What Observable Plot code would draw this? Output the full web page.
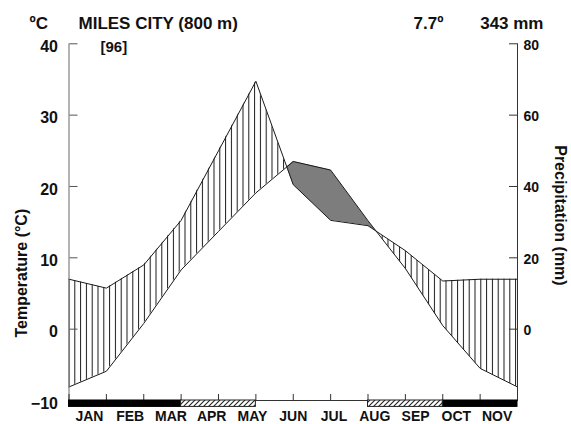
<!DOCTYPE html>
<html>
<head>
<meta charset="utf-8">
<script src="https://cdn.jsdelivr.net/npm/d3@7"></script>
<script src="https://cdn.jsdelivr.net/npm/@observablehq/plot@0.6"></script>
<style>
  html, body { margin: 0; padding: 0; background: #fff; }
</style>
</head>
<body>
<div id="chart"></div>
<script>
// Walter–Lieth climate diagram, Miles City
const station = "MILES CITY (800 m)";
const years = "[96]";
const unitLabel = "ºC";
const annualMean = "7.7º";
const annualTotal = "343 mm";
const months = ["JAN", "FEB", "MAR", "APR", "MAY", "JUN", "JUL", "AUG", "SEP", "OCT", "NOV"];

// monthly means, closed back onto the first month
const temperature = [-8.1, -5.9, 0.8, 8.3, 13.7, 19.1, 23.5, 22.3, 15.2, 8.5, 0.5, -5.5, -8.1];   // °C
const precipitation = [14, 11.5, 18, 30.5, 50, 69.5, 40.5, 30.5, 29, 22, 13.5, 14, 14];        // mm

// frost per month: 2 = sure frost, 1 = probable frost, 0 = none
const frost = [2, 2, 2, 1, 1, 0, 0, 0, 1, 1, 2, 2];

const tempTicks = [-10, 0, 10, 20, 30, 40];
const precipTicks = [0, 20, 40, 60, 80];

// 20 mm of precipitation share the height of 10 °C
const rows = temperature.map((t, i) => ({x: i, t, p: precipitation[i] / 2}));

// split the band between both curves where they cross (humid vs. arid)
const bands = [];
let seg = 0;
for (let i = 0; i < rows.length; i++) {
  const a = rows[i];
  const wet = a.p >= a.t;
  bands.push({...a, seg, wet});
  const b = rows[i + 1];
  if (b && (b.p >= b.t) !== wet) {
    const f = (a.p - a.t) / ((a.p - a.t) - (b.p - b.t));
    const t = a.t + f * (b.t - a.t);
    const c = {x: a.x + f, t, p: t};
    bands.push({...c, seg, wet});
    seg++;
    bands.push({...c, seg, wet: !wet});
  }
}

// merge consecutive months with the same frost code into one bar
const frostRuns = [];
frost.forEach((code, i) => {
  const last = frostRuns[frostRuns.length - 1];
  if (last && last.code === code) last.x2 = i + 1;
  else frostRuns.push({code, x1: i, x2: i + 1});
});

const ink = "#1a1a1a";

const chart = Plot.plot({
  width: 571,
  height: 424,
  marginLeft: 68.5,
  marginRight: 54,
  marginTop: 43.3,
  marginBottom: 24,
  style: {
    fontFamily: "'Liberation Sans', Arial, sans-serif",
    fontWeight: "bold",
    color: "#111",
    background: "#fff",
    overflow: "visible"
  },
  x: {domain: [0, 12]},
  y: {domain: [-10, 40]},
  marks: [
    // humid (hatched) and arid (grey) periods
    Plot.areaY(bands.filter(d => d.wet), {x: "x", y1: "t", y2: "p", z: "seg", fill: "url(#wet-hatch)"}),
    Plot.areaY(bands.filter(d => !d.wet), {x: "x", y1: "t", y2: "p", z: "seg", fill: "#7d7d7d"}),
    Plot.line(rows, {x: "x", y: "t", stroke: ink, strokeWidth: 1}),
    Plot.line(rows, {x: "x", y: "p", stroke: ink, strokeWidth: 1}),

    // frame
    Plot.ruleX([0], {y1: -10, y2: 40, stroke: "#666", strokeWidth: 1}),
    Plot.ruleX([12], {y1: -10, y2: 40, stroke: "#333", strokeWidth: 1}),
    Plot.ruleY([-10], {stroke: "#333", strokeWidth: 1}),

    // temperature axis (left), ticks pointing inwards
    Plot.axisY(tempTicks, {anchor: "left", tickSize: 0, tickPadding: 11, dy: 3, fontSize: 16, label: null}),
    Plot.axisY(tempTicks, {anchor: "right", frameAnchor: "left", tickSize: 8, tickFormat: () => "", label: null, stroke: "#555"}),

    // precipitation axis (right), ticks pointing inwards
    Plot.axisY(precipTicks.map(p => p / 2), {anchor: "right", tickSize: 0, tickPadding: 6, dy: 1.5, fontSize: 14, tickFormat: d => String(d * 2), label: null}),
    Plot.axisY(precipTicks.map(p => p / 2), {anchor: "left", frameAnchor: "right", tickSize: 8, tickFormat: () => "", label: null, stroke: "#333"}),

    // month ticks along the base, pointing up
    Plot.axisX(d3.range(13), {anchor: "top", frameAnchor: "bottom", tickSize: 7, tickFormat: () => "", label: null, stroke: "#333"}),

    // frost bars
    Plot.rect(frostRuns.filter(d => d.code === 2), {x1: "x1", x2: "x2", y1: -10, y2: -10.9, fill: "#000", stroke: "#000", strokeWidth: 1}),
    Plot.rect(frostRuns.filter(d => d.code === 1), {x1: "x1", x2: "x2", y1: -10, y2: -10.9, fill: "url(#frost-hatch)", stroke: "#222", strokeWidth: 1}),

    // month names
    Plot.text(months, {text: d => d, x: (d, i) => (i + 0.5) * 12 / 11, frameAnchor: "bottom", dy: 16, lineAnchor: "middle", fontSize: 14}),

    // header
    Plot.text([unitLabel], {text: d => d, frameAnchor: "top-left", dx: -39.5, dy: -14.8, textAnchor: "start", lineAnchor: "bottom", fontSize: 17}),
    Plot.text([station], {text: d => d, frameAnchor: "top-left", dx: 9.5, dy: -14.8, textAnchor: "start", lineAnchor: "bottom", fontSize: 17}),
    Plot.text([years], {text: d => d, frameAnchor: "top-left", dx: 31.5, dy: 7.7, textAnchor: "start", lineAnchor: "bottom", fontSize: 15}),
    Plot.text([annualMean], {text: d => d, frameAnchor: "top-left", dx: 344.5, dy: -14.8, textAnchor: "start", lineAnchor: "bottom", fontSize: 17}),
    Plot.text([annualTotal], {text: d => d, frameAnchor: "top-right", dx: 26, dy: -14.8, textAnchor: "end", lineAnchor: "bottom", fontSize: 17}),

    // axis titles
    Plot.text(["Temperature (°C)"], {text: d => d, frameAnchor: "left", rotate: -90, textAnchor: "middle", lineAnchor: "middle", dx: -47.5, dy: 51, fontSize: 16}),
    Plot.text(["Precipitation (mm)"], {text: d => d, frameAnchor: "right", rotate: 90, textAnchor: "middle", lineAnchor: "middle", dx: 43, dy: -6.7, fontSize: 16})
  ]
});

// fill patterns: vertical hatching for the humid period, diagonal hatching for probable frost
const defs = d3.select(chart).insert("defs", ":first-child");
const wetHatch = defs.append("pattern")
  .attr("id", "wet-hatch")
  .attr("patternUnits", "userSpaceOnUse")
  .attr("x", 68.5)
  .attr("width", 5.8)
  .attr("height", 10);
wetHatch.append("rect").attr("width", 5.8).attr("height", 10).attr("fill", "#fff");
wetHatch.append("line")
  .attr("x1", 0.5).attr("x2", 0.5).attr("y1", 0).attr("y2", 10)
  .attr("stroke", ink).attr("stroke-width", 1);

const frostHatch = defs.append("pattern")
  .attr("id", "frost-hatch")
  .attr("patternUnits", "userSpaceOnUse")
  .attr("width", 5)
  .attr("height", 5);
frostHatch.append("rect").attr("width", 5).attr("height", 5).attr("fill", "#fff");
frostHatch.append("path")
  .attr("d", "M-1,1 L1,-1 M0,5 L5,0 M4,6 L6,4")
  .attr("stroke", "#222").attr("stroke-width", 1.1);

document.getElementById("chart").append(chart);
</script>
</body>
</html>
